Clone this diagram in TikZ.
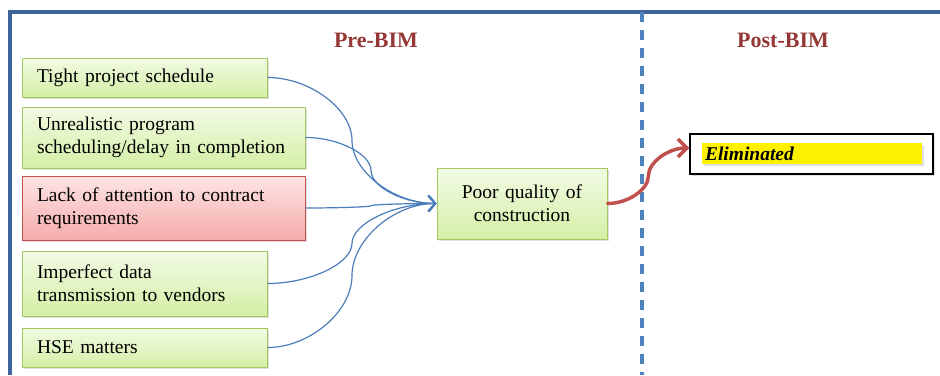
\documentclass[tikz,border=0pt]{standalone}
\usepackage{fontspec}
\setmainfont{Liberation Serif}
\usetikzlibrary{arrows.meta,shadows,calc}
\definecolor{framec}{HTML}{3D6398}
\definecolor{dashc}{HTML}{4F81BD}
\definecolor{linkc}{HTML}{4A7EBB}
\definecolor{titlec}{HTML}{953735}
\definecolor{greentop}{HTML}{F2FBE4}
\definecolor{greenbot}{HTML}{D4EFA6}
\definecolor{greenrim}{HTML}{A3C762}
\definecolor{redtop}{HTML}{FDE4E4}
\definecolor{redbot}{HTML}{F6ABAB}
\definecolor{redrim}{HTML}{C0504D}
\definecolor{arrowred}{HTML}{C0504D}
\newcommand{\bodyfont}{\fontsize{19.5}{23}\selectfont}
\newcommand{\headfont}{\fontsize{22}{26}\selectfont\bfseries}
% curved connector: leaves horizontally, turns vertical half way, arrives horizontally
\newcommand{\curvedlink}[3]{%
  \draw[#1] let \p1=(#2), \p2=(#3) in
    (\p1) .. controls ({(3*\x1+\x2)/4},\y1) and ({(\x1+\x2)/2},{(3*\y1+\y2)/4}) ..
    ({(\x1+\x2)/2},{(\y1+\y2)/2}) .. controls ({(\x1+\x2)/2},{(\y1+3*\y2)/4}) and ({(\x1+3*\x2)/4},\y2) ..
    (\p2);}
\tikzset{
  boxshadow/.style={drop shadow={opacity=0.25, shadow xshift=1.5pt, shadow yshift=-2pt}},
  cause/.style={draw=greenrim, line width=1pt, top color=greentop, bottom color=greenbot,
    inner sep=0pt, align=left, font=\bodyfont, boxshadow},
  redcause/.style={cause, draw=redrim, top color=redtop, bottom color=redbot},
  effect/.style={cause, align=center},
  heading/.style={text=titlec, font=\headfont, inner sep=0pt},
  link/.style={draw=linkc, line width=1.2pt, -{Straight Barb[length=7pt,width=16pt,line width=1.8pt]}},
  redlink/.style={draw=arrowred, line width=3.5pt, line cap=round,
    -{Straight Barb[length=9pt,width=18pt]}},
}
\begin{document}
\begin{tikzpicture}[x=1pt,y=-1pt]
\useasboundingbox (0,0) rectangle (940,375);
% outer frame (top and left edges)
\draw[framec, line width=3.5pt] (940,12) -- (10,12) -- (10,375);
% divider between the two periods
\draw[dashc, line width=3.5pt, dash pattern=on 10pt off 8pt] (642,12) -- (642,375);
% headings
\node[heading] (pre) at (376,40) {Pre-BIM};
\node[heading] (post) at (783,40) {Post-BIM};
% causes
\node[cause, minimum width=245, text width=215, minimum height=39] (t1) at (144.5,77.5) {Tight project schedule};
\node[cause, minimum width=283, text width=253, minimum height=61] (t2) at (163.5,137.5) {Unrealistic program\\scheduling/delay in completion};
\node[redcause, minimum width=283, text width=253, minimum height=64] (t3) at (163.5,208) {Lack of attention to contract\\requirements};
\node[cause, minimum width=245, text width=215, minimum height=65] (t4) at (144.5,283.5) {Imperfect data\\transmission to vendors};
\node[cause, minimum width=245, text width=215, minimum height=39] (t5) at (144.5,347.5) {HSE matters};
% effect
\node[effect, minimum width=170, text width=150, minimum height=71] (poor) at (522,203.5) {Poor quality of\\construction};
% outcome after BIM
\node[draw=black, line width=1.2pt, fill=white, minimum width=243, minimum height=40, inner sep=0pt, boxshadow] (elim) at (811.5,154) {};
\node[fill=yellow, minimum width=220, text width=214, minimum height=21, inner sep=0pt, align=left,
      font=\bodyfont\bfseries\itshape, boxshadow] (elimtext) at (812,153.5) {Eliminated};
\coordinate (elimin) at ($(elim.west)+(0,-6)$);
% connectors
\foreach \src in {t1,t2,t3,t4,t5} {\curvedlink{link}{\src.east}{poor.west}}
\curvedlink{redlink}{poor.east}{elimin}
\end{tikzpicture}
\end{document}
